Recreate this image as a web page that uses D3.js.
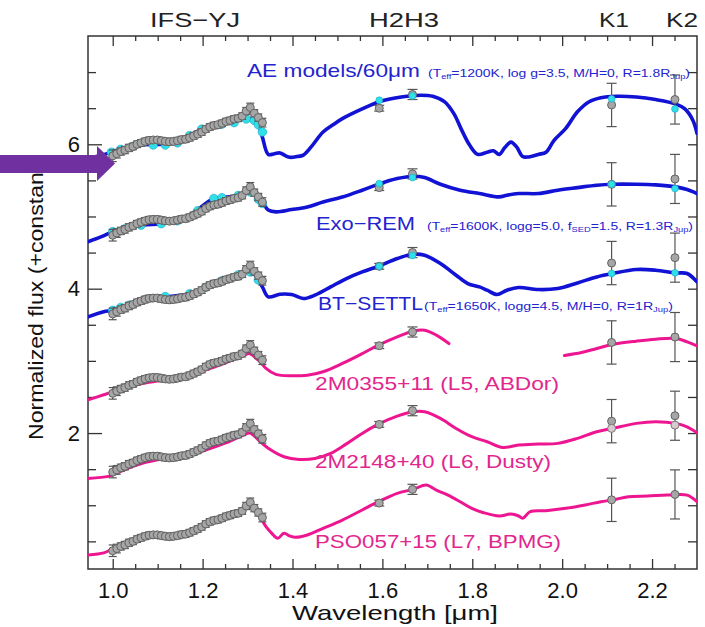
<!DOCTYPE html>
<html>
<head>
<meta charset="utf-8">
<script src="https://cdn.jsdelivr.net/npm/d3@7/dist/d3.min.js"></script>
<style>
body { margin: 0; background: #fff; }
text { font-family: "Liberation Sans", Arial, Helvetica, sans-serif; }
</style>
</head>
<body>
<script>
// SPHERE IFS-YJ channels of the planet (um), flux before the per-panel constant
var ifsWave = [1.000, 1.009, 1.018, 1.027, 1.036, 1.045, 1.054, 1.063, 1.072, 1.081,
    1.090, 1.099, 1.108, 1.117, 1.126, 1.135, 1.144, 1.153, 1.162, 1.171,
    1.180, 1.189, 1.198, 1.207, 1.216, 1.225, 1.234, 1.243, 1.252, 1.261,
    1.270, 1.279, 1.288, 1.297, 1.306, 1.315, 1.324, 1.333];
var ifsFlux = [0.37, 0.40, 0.43, 0.45, 0.48, 0.50, 0.53, 0.55, 0.57, 0.585,
    0.59, 0.59, 0.58, 0.57, 0.565, 0.57, 0.58, 0.595, 0.60, 0.62,
    0.645, 0.67, 0.70, 0.74, 0.77, 0.79, 0.80, 0.82, 0.845, 0.86,
    0.88, 0.89, 0.92, 0.99, 1.04, 0.96, 0.90, 0.83];
var ifsErr = [0.08, 0.06, 0.05, 0.05, 0.05, 0.045, 0.045, 0.045, 0.045, 0.045,
    0.045, 0.045, 0.045, 0.045, 0.045, 0.045, 0.045, 0.045, 0.045, 0.045,
    0.045, 0.045, 0.045, 0.045, 0.045, 0.045, 0.045, 0.045, 0.045, 0.045,
    0.045, 0.045, 0.045, 0.05, 0.06, 0.05, 0.05, 0.06];

// IRDIS photometry H2, H3, K1, K2
var photWave = [1.593, 1.667, 2.110, 2.251];
var photFlux = [1.03, 1.22, 1.075, 1.15];
var photErr = [0.04, 0.07, 0.30, 0.34];

// constant added to the planet data in each panel, top to bottom
var offsets = [5.47, 4.37, 3.28, 2.18, 1.09, 0];

// model / comparison spectra as plotted [wavelength, flux + constant]
var aeModel = [[0.945,5.80],[0.97,5.84],[0.997,5.89],[1.028,5.95],[1.06,5.99],[1.09,6.00],[1.11,6.00],[1.14,6.03],
    [1.171,6.12],[1.198,6.21],[1.23,6.27],[1.26,6.30],[1.293,6.35],[1.311,6.34],[1.324,6.27],[1.333,6.10],
    [1.346,5.86],[1.36,5.87],[1.372,5.88],[1.385,5.84],[1.394,5.82],[1.41,5.83],[1.424,5.85],[1.441,5.96],
    [1.468,6.17],[1.49,6.27],[1.511,6.355],[1.555,6.49],[1.598,6.60],[1.642,6.655],[1.685,6.68],[1.712,6.665],
    [1.738,6.59],[1.759,6.425],[1.777,6.19],[1.794,5.99],[1.812,5.86],[1.833,5.89],[1.847,5.91],[1.860,5.86],
    [1.873,5.96],[1.886,6.03],[1.899,5.96],[1.912,5.83],[1.925,5.825],[1.947,5.86],[1.964,5.89],[1.982,6.055],
    [2.008,6.22],[2.034,6.45],[2.060,6.59],[2.086,6.645],[2.121,6.665],[2.165,6.655],[2.208,6.62],[2.252,6.56],
    [2.273,6.49],[2.291,6.33],[2.30,6.15]];
var exoremModel = [[0.945,4.65],[0.975,4.72],[1.0,4.79],[1.035,4.84],[1.067,4.88],[1.11,4.90],[1.15,4.95],
    [1.19,5.10],[1.224,5.25],[1.241,5.26],[1.27,5.28],[1.295,5.33],[1.311,5.34],[1.328,5.22],[1.338,5.15],
    [1.346,5.09],[1.363,5.064],[1.398,5.096],[1.433,5.133],[1.468,5.20],[1.511,5.27],[1.555,5.364],[1.591,5.447],
    [1.633,5.525],[1.668,5.558],[1.694,5.539],[1.729,5.447],[1.773,5.364],[1.816,5.318],[1.86,5.271],[1.877,5.295],
    [1.903,5.318],[1.947,5.318],[1.99,5.364],[2.034,5.40],[2.077,5.433],[2.112,5.447],[2.165,5.447],[2.208,5.438],
    [2.253,5.41],[2.278,5.373],[2.30,5.318]];
var btsettlModel = [[0.945,3.61],[0.98,3.68],[1.0,3.70],[1.032,3.77],[1.07,3.84],[1.11,3.88],[1.171,3.93],
    [1.2,4.00],[1.232,4.09],[1.27,4.17],[1.302,4.23],[1.315,4.20],[1.324,4.12],[1.333,4.025],[1.346,3.887],
    [1.372,3.923],[1.398,3.919],[1.424,3.864],[1.45,3.91],[1.485,4.025],[1.52,4.14],[1.555,4.233],[1.591,4.311],
    [1.633,4.417],[1.668,4.477],[1.694,4.463],[1.729,4.348],[1.764,4.187],[1.79,4.071],[1.816,4.025],[1.833,3.979],
    [1.855,3.919],[1.877,3.979],[1.903,4.016],[1.947,3.988],[1.99,4.002],[2.034,4.08],[2.077,4.163],[2.112,4.21],
    [2.165,4.265],[2.208,4.256],[2.253,4.219],[2.278,4.21],[2.30,4.094]];
var m0355Spec = [[0.945,2.46],[0.98,2.53],[0.995,2.56],[1.03,2.62],[1.06,2.68],[1.1,2.72],[1.15,2.76],[1.2,2.86],
    [1.25,2.97],[1.29,3.07],[1.305,3.10],[1.32,3.03],[1.328,2.987],[1.341,2.895],[1.363,2.812],[1.398,2.793],
    [1.433,2.802],[1.468,2.849],[1.511,2.964],[1.555,3.10],[1.591,3.218],[1.633,3.333],[1.668,3.411],[1.694,3.425],
    [1.72,3.356],[1.748,3.24],[1.86,null],[2.005,3.075],[2.043,3.116],[2.077,3.172],[2.112,3.227],[2.165,3.273],
    [2.208,3.301],[2.253,3.31],[2.278,3.264],[2.30,3.209]];
var m2148Spec = [[0.945,1.37],[0.99,1.40],[1.0,1.42],[1.05,1.55],[1.1,1.63],[1.15,1.66],[1.2,1.75],[1.25,1.86],
    [1.29,1.97],[1.305,2.00],[1.32,1.93],[1.328,1.88],[1.346,1.79],[1.381,1.672],[1.415,1.635],[1.45,1.649],
    [1.485,1.718],[1.52,1.85],[1.555,1.995],[1.591,2.124],[1.633,2.235],[1.668,2.295],[1.694,2.295],[1.729,2.203],
    [1.764,2.064],[1.799,1.949],[1.833,1.88],[1.868,1.801],[1.903,1.834],[1.947,1.848],[1.99,1.857],[2.034,1.926],
    [2.077,2.018],[2.112,2.064],[2.165,2.134],[2.208,2.157],[2.253,2.134],[2.278,2.087],[2.30,2.004]];
var pso057Spec = [[0.945,0.31],[0.98,0.34],[0.995,0.38],[1.03,0.46],[1.07,0.56],[1.1,0.58],[1.15,0.59],[1.2,0.70],
    [1.25,0.83],[1.29,0.96],[1.305,1.00],[1.32,0.93],[1.328,0.842],[1.341,0.703],[1.354,0.611],[1.367,0.542],
    [1.381,0.611],[1.394,0.574],[1.407,0.556],[1.433,0.588],[1.468,0.68],[1.511,0.795],[1.555,0.934],[1.591,1.049],
    [1.633,1.165],[1.668,1.22],[1.698,1.28],[1.72,1.211],[1.746,1.141],[1.773,1.049],[1.799,0.957],[1.825,0.897],
    [1.86,0.851],[1.886,0.878],[1.903,0.851],[1.912,0.819],[1.929,0.911],[1.964,0.925],[2.008,0.957],[2.051,1.003],
    [2.086,1.049],[2.112,1.072],[2.147,1.118],[2.191,1.128],[2.234,1.141],[2.278,1.141],[2.30,1.049]];

// models binned to the IFS channels (cyan, mostly hidden behind the data)
var aeBinnedIfs = [[0.997,5.89],[1.018,5.93],[1.045,5.97],[1.09,5.99],[1.117,5.99],[1.144,6.02],[1.171,6.12],
    [1.198,6.21],[1.243,6.28],[1.27,6.30],[1.297,6.35],[1.315,6.33],[1.324,6.27],[1.333,6.17]];
var exoremBinnedIfs = [[1.0,4.79],[1.027,4.83],[1.063,4.88],[1.108,4.90],[1.144,4.94],[1.189,5.08],[1.225,5.25],
    [1.243,5.26],[1.279,5.29],[1.306,5.34],[1.324,5.24],[1.333,5.18]];
var btsettlBinnedIfs = [[1.0,3.70],[1.018,3.74],[1.036,3.77],[1.072,3.85],[1.117,3.89],[1.171,3.93],[1.207,4.02],
    [1.243,4.11],[1.279,4.19],[1.306,4.23],[1.324,4.12]];
// models binned to H2, H3, K1, K2
var aeBinnedPhot = [[1.593,6.61],[1.667,6.67],[2.110,6.63],[2.251,6.49]];
var exoremBinnedPhot = [[1.593,5.456],[1.667,5.539],[2.110,5.447],[2.251,5.387]];
var btsettlBinnedPhot = [[1.593,4.31],[1.667,4.46],[2.110,4.21],[2.251,4.22]];
// 2M2148 own K-band points
var m2148Phot = [[2.110,2.065],[2.251,2.11]];

var bandNames = ["IFS\u2212YJ", "H2H3", "K1", "K2"];
var xMajor = [1.0, 1.2, 1.4, 1.6, 1.8, 2.0, 2.2];
var xMinor = [1.05, 1.1, 1.15, 1.25, 1.3, 1.35, 1.45, 1.5, 1.55, 1.65, 1.7, 1.75, 1.85, 1.9, 1.95, 2.05, 2.1, 2.15, 2.25];
var yMajor = [2, 4, 6];
var yMinor = [0.5, 1, 1.5, 2.5, 3, 3.5, 4.5, 5, 5.5, 6.5, 7];

var blue = "#1212d4", pink = "#ee1690", cyan = "#30e0e8";
var blueText = "#2323cf", pinkText = "#e2268e";

var width = 705, height = 627;
var plotL = 88, plotR = 697, plotT = 36, plotB = 569;

var x = d3.scaleLinear().domain([0.945, 2.30]).range([plotL, plotR]);
var y = d3.scaleLinear().domain([0.117, 7.5]).range([plotB, plotT]);

var svg = d3.select("body").append("svg").attr("width", width).attr("height", height);

svg.append("clipPath").attr("id", "plotclip")
    .append("rect").attr("x", plotL).attr("y", plotT).attr("width", plotR - plotL).attr("height", plotB - plotT);

// axes, ticks inward on all four sides
function tickAxis(axis, tr, vals, size, labels) {
    var a = axis.tickValues(vals).tickSizeInner(-size).tickSizeOuter(0);
    if (!labels) a.tickFormat("");
    var g = svg.append("g").attr("transform", tr).call(a);
    g.select(".domain").remove();
    g.selectAll(".tick line").attr("stroke", "#333").attr("stroke-width", 1.3);
    return g;
}
var gxb = tickAxis(d3.axisBottom(x).tickPadding(13).tickFormat(d3.format(".1f")), "translate(0," + plotB + ")", xMajor, 10, true);
tickAxis(d3.axisBottom(x), "translate(0," + plotB + ")", xMinor, 5, false);
tickAxis(d3.axisTop(x), "translate(0," + plotT + ")", xMajor, 10, false);
tickAxis(d3.axisTop(x), "translate(0," + plotT + ")", xMinor, 5, false);
var gyl = tickAxis(d3.axisLeft(y).tickPadding(8).tickFormat(d3.format("d")), "translate(" + plotL + ",0)", yMajor, 14, true);
tickAxis(d3.axisLeft(y), "translate(" + plotL + ",0)", yMinor, 8, false);
tickAxis(d3.axisRight(y), "translate(" + plotR + ",0)", yMajor.concat(yMinor), 9, false);

gxb.selectAll("text").attr("font-size", 22).attr("fill", "#111").style("font-family", "'Liberation Sans', Arial, sans-serif");
gyl.selectAll("text").attr("font-size", 22).attr("fill", "#111").style("font-family", "'Liberation Sans', Arial, sans-serif");

svg.append("rect").attr("x", plotL).attr("y", plotT).attr("width", plotR - plotL).attr("height", plotB - plotT)
    .attr("fill", "none").attr("stroke", "#333").attr("stroke-width", 1.5);

// band names along the top
var bandX = [150, 369, 599, 666], bandLen = [90, 70, 30, 32];
bandNames.forEach(function (t, i) {
    svg.append("text").attr("x", bandX[i]).attr("y", 27).attr("font-size", 20.5).attr("fill", "#222")
        .attr("textLength", bandLen[i]).attr("lengthAdjust", "spacingAndGlyphs").text(t);
});

// axis titles
svg.append("text").attr("x", 292).attr("y", 620).attr("font-size", 21).attr("fill", "#111")
    .attr("textLength", 206).attr("lengthAdjust", "spacingAndGlyphs").text("Wavelength [\u03bcm]");
svg.append("text").attr("transform", "translate(43,299) rotate(-90)").attr("text-anchor", "middle")
    .attr("font-size", 21).attr("fill", "#111").attr("textLength", 282).attr("lengthAdjust", "spacingAndGlyphs")
    .text("Normalized flux (+constant)");

// spectra
var line = d3.line().defined(function (d) { return d[1] !== null; })
    .x(function (d) { return x(d[0]); }).y(function (d) { return y(d[1]); })
    .curve(d3.curveCatmullRom.alpha(0.5));

var plot = svg.append("g").attr("clip-path", "url(#plotclip)");
var models = [aeModel, exoremModel, btsettlModel, m0355Spec, m2148Spec, pso057Spec];
models.forEach(function (m, i) {
    plot.append("path").datum(m).attr("d", line).attr("fill", "none")
        .attr("stroke", i < 3 ? blue : pink).attr("stroke-width", i < 3 ? 3.6 : 3)
        .attr("stroke-linejoin", "round").attr("stroke-linecap", "round");
});

var binnedIfs = [aeBinnedIfs, exoremBinnedIfs, btsettlBinnedIfs];
var binnedPhot = [aeBinnedPhot, exoremBinnedPhot, btsettlBinnedPhot];

function cyanDots(g, data, r) {
    g.selectAll(null).data(data).enter().append("circle")
        .attr("cx", function (d) { return x(d[0]); }).attr("cy", function (d) { return y(d[1]); })
        .attr("r", r).attr("fill", cyan).attr("stroke", "#1aa8c8").attr("stroke-width", 0.6);
}

offsets.forEach(function (off, p) {
    var g = plot.append("g");
    var pts = ifsWave.map(function (w, i) { return { w: w, f: ifsFlux[i] + off, e: ifsErr[i], cap: 4 }; })
        .concat(photWave.map(function (w, i) { return { w: w, f: photFlux[i] + off, e: photErr[i], cap: 5 }; }));

    if (p < 3) cyanDots(g, binnedIfs[p], 4.3);

    var eb = g.selectAll(".eb").data(pts).enter().append("g");
    eb.append("line").attr("x1", function (d) { return x(d.w); }).attr("x2", function (d) { return x(d.w); })
        .attr("y1", function (d) { return y(d.f - d.e); }).attr("y2", function (d) { return y(d.f + d.e); });
    eb.append("line").attr("x1", function (d) { return x(d.w) - d.cap; }).attr("x2", function (d) { return x(d.w) + d.cap; })
        .attr("y1", function (d) { return y(d.f + d.e); }).attr("y2", function (d) { return y(d.f + d.e); });
    eb.append("line").attr("x1", function (d) { return x(d.w) - d.cap; }).attr("x2", function (d) { return x(d.w) + d.cap; })
        .attr("y1", function (d) { return y(d.f - d.e); }).attr("y2", function (d) { return y(d.f - d.e); });
    eb.selectAll("line").attr("stroke", "#555").attr("stroke-width", 1.2);

    g.selectAll(".pt").data(pts).enter().append("circle")
        .attr("cx", function (d) { return x(d.w); }).attr("cy", function (d) { return y(d.f); })
        .attr("r", 4).attr("fill", "#a6a6a6").attr("stroke", "#626262").attr("stroke-width", 1);

    if (p < 3) cyanDots(g, binnedPhot[p], 3.4);
});

plot.selectAll(".bd").data(m2148Phot).enter().append("circle")
    .attr("cx", function (d) { return x(d[0]); }).attr("cy", function (d) { return y(d[1]); })
    .attr("r", 4).attr("fill", "#d8c8d0").attr("stroke", "#7a7a7a").attr("stroke-width", 1);

// panel labels
function label(xp, yp, txt, color, len) {
    svg.append("text").attr("x", xp).attr("y", yp).attr("font-size", 18.5).attr("fill", color)
        .attr("textLength", len).attr("lengthAdjust", "spacingAndGlyphs").text(txt);
}
function params(xp, yp, parts, len) {
    var t = svg.append("text").attr("x", xp).attr("y", yp).attr("font-size", 10.5).attr("fill", blueText)
        .attr("textLength", len).attr("lengthAdjust", "spacingAndGlyphs");
    var shift = 0;
    parts.forEach(function (s) {
        var sub = s[1] === "sub";
        var ts = t.append("tspan").text(s[0]);
        if (sub) { ts.attr("font-size", 7).attr("dy", 2); shift = 2; }
        else if (shift) { ts.attr("dy", -shift); shift = 0; }
    });
}

label(247, 77, "AE models/60\u03bcm", blueText, 173);
params(428, 77, [["(T"], ["eff", "sub"], ["=1200K, log g=3.5, M/H=0, R=1.8R"], ["Jup", "sub"], [")"]], 262);
label(316, 230, "Exo\u2212REM", blueText, 99);
params(427, 230, [["(T"], ["eff", "sub"], ["=1600K, logg=5.0, f"], ["SED", "sub"], ["=1.5, R=1.3R"], ["Jup", "sub"], [")"]], 266);
label(318, 310, "BT\u2212SETTL", blueText, 105);
params(424, 310, [["(T"], ["eff", "sub"], ["=1650K, logg=4.5, M/H=0, R=1R"], ["Jup", "sub"], [")"]], 249);
label(315, 390, "2M0355+11 (L5, ABDor)", pinkText, 244);
label(315, 468, "2M2148+40 (L6, Dusty)", pinkText, 236);
label(315, 548, "PSO057+15 (L7, BPMG)", pinkText, 246);

// purple pointer arrow at the left
svg.append("polygon")
    .attr("points", [[0,155],[97,155],[97,146],[115,163.5],[97,181],[97,173],[0,173]].map(function (p) { return p.join(","); }).join(" "))
    .attr("fill", "#7030a0");
</script>
</body>
</html>
